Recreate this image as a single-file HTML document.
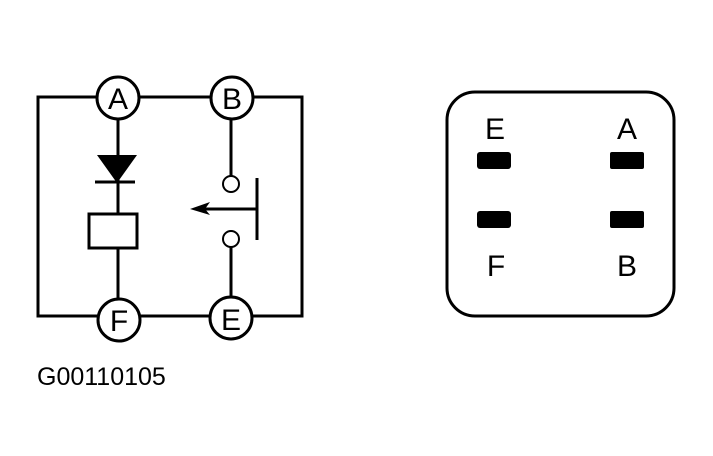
<!DOCTYPE html>
<html><head><style>body{margin:0;background:#fff}svg{display:block}</style></head><body>
<svg width="713" height="456" viewBox="0 0 713 456" font-family="Liberation Sans, sans-serif">
<g stroke="#000" stroke-width="3" fill="none">
<rect x="38" y="97" width="264" height="219"/>
<line x1="118" y1="98" x2="118" y2="320"/>
<line x1="231" y1="98" x2="231" y2="176"/>
<line x1="231" y1="247" x2="231" y2="318"/>
<line x1="257" y1="178" x2="257" y2="240"/>
<line x1="200" y1="209" x2="257" y2="209"/>
<line x1="95" y1="182" x2="135" y2="182"/>
<rect x="89" y="214" width="48" height="34" fill="#fff"/>
<circle cx="118" cy="98" r="21" fill="#fff"/>
<circle cx="232" cy="98" r="21" fill="#fff"/>
<circle cx="119" cy="320" r="21" fill="#fff"/>
<circle cx="231" cy="318" r="21" fill="#fff"/>
<circle cx="231" cy="184" r="8" fill="#fff" stroke-width="2"/>
<circle cx="231" cy="239" r="8" fill="#fff" stroke-width="2"/>
<rect x="447" y="92" width="227" height="224" rx="28"/>
</g>
<polygon points="97,155 137,155 117,183" fill="#000"/>
<polygon points="190,209 210,202 205,209 210,215" fill="#000"/>
<g fill="#000">
<rect x="477" y="152" width="34" height="17" rx="3"/>
<rect x="610" y="152" width="34" height="17" rx="2"/>
<rect x="477" y="211" width="34" height="17" rx="3"/>
<rect x="610" y="211" width="34" height="17" rx="2"/>
</g>
<g font-size="30" text-anchor="middle">
<text x="118" y="109">A</text><text x="232" y="109">B</text>
<text x="119" y="331">F</text><text x="231" y="330">E</text>
<text x="495" y="139">E</text><text x="627" y="139">A</text>
<text x="496" y="276">F</text><text x="627" y="276">B</text>
</g>
<text x="37" y="385" font-size="25">G00110105</text>
</svg>
</body></html>
